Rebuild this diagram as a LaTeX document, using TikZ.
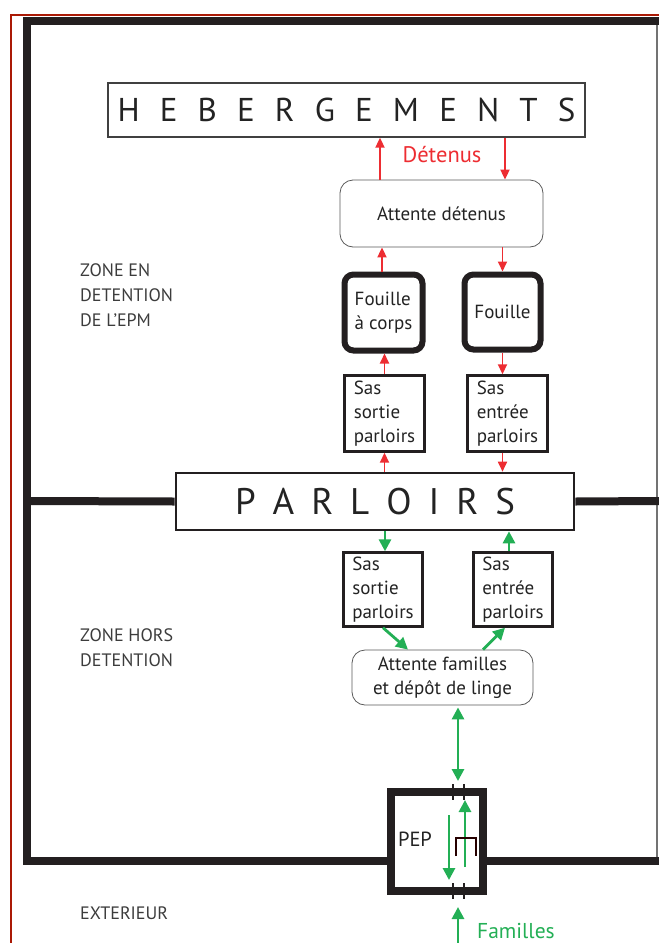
\documentclass[tikz,border=0pt]{standalone}
\usepackage{fontspec}
\setmainfont{PT Sans}
\usetikzlibrary{calc,arrows.meta}
\definecolor{framec}{RGB}{35,31,32}
\definecolor{redc}{RGB}{237,45,50}
\definecolor{greenc}{RGB}{35,175,85}
\definecolor{borderred}{RGB}{170,25,5}
\definecolor{txt}{RGB}{35,35,35}
\definecolor{lbl}{RGB}{60,60,60}
\begin{document}
\begin{tikzpicture}[x=1pt,y=-1pt,
  titlebox/.style={draw=black!75, line width=1.3pt, inner sep=0pt, text=txt,
    font=\fontsize{33}{33}\selectfont},
  softbox/.style={draw=black!65, line width=0.8pt, rounded corners=13pt, inner sep=0pt,
    align=center, text=txt, font=\fontsize{19}{24}\selectfont},
  fouillebox/.style={draw=framec, line width=6pt, rounded corners=9pt, inner sep=0pt,
    text=txt, font=\fontsize{19}{24}\selectfont},
  sasbox/.style={draw=framec, line width=2.4pt, inner sep=0pt, text=txt,
    font=\fontsize{19}{24}\selectfont},
  zonelabel/.style={anchor=north west, align=left, inner sep=0pt, text=lbl,
    font=\fontsize{18}{25}\selectfont},
  redarrow/.style={draw=redc, line width=1.8pt, -{Triangle[length=10pt,width=9pt]}},
  greenarrow/.style={draw=greenc, line width=2.8pt, -{Triangle[length=12pt,width=12pt]}},
  wall/.style={draw=framec, line width=8pt},
]
\useasboundingbox (0,0) rectangle (659,943);

% outer red border and thin right edge
\draw[borderred, line width=2pt] (11,943) -- (11,15) -- (659,15);
\draw[black!55, line width=1.5pt] (657,21) -- (657,861);

% boxes
\node[titlebox, minimum width=477pt, minimum height=54pt] (heb) at (346.5,110)
  {\makebox[458pt][s]{H E B E R G E M E N T S}};
\node[text=redc, font=\fontsize{22.5}{22}\selectfont, inner sep=0pt] (det) at (442,155) {Détenus};
\node[softbox, minimum width=203pt, minimum height=67pt] (att) at (441.5,213.5) {Attente détenus};
\node[fouillebox, minimum width=78pt, minimum height=76pt, align=left] (fc) at (383.5,312.5)
  {Fouille\\à corps};
\node[fouillebox, minimum width=76pt, minimum height=75pt] (fo) at (502.5,312) {Fouille};
\node[sasbox, minimum width=80pt, minimum height=76pt, align=left] (ss1) at (384.5,413.5)
  {Sas\\sortie\\parloirs};
\node[sasbox, minimum width=80pt, minimum height=76pt, align=left] (se1) at (507.5,413.5)
  {Sas\\entrée\\parloirs};
\node[titlebox, draw=framec, line width=2.6pt, minimum width=398pt, minimum height=57pt,
  font=\fontsize{37}{37}\selectfont] (parl) at (375,501.5)
  {\makebox[280pt][s]{P A R L O I R S}};
\node[sasbox, minimum width=79pt, minimum height=74pt, align=left] (ss2) at (383,589.5)
  {Sas\\sortie\\parloirs};
\node[sasbox, minimum width=79pt, minimum height=74pt, align=left] (se2) at (513,589.5)
  {Sas\\entrée\\parloirs};
\node[softbox, minimum width=181pt, minimum height=55pt] (af) at (442.5,677.5)
  {Attente familles\\et dépôt de linge};
\node[draw=framec, line width=8pt, minimum width=92pt, minimum height=99pt, inner sep=0pt] (pep) at (437,841.5) {};
\node[text=txt, font=\fontsize{20.5}{20}\selectfont, inner sep=0pt] (peplbl) at (415,839) {PEP};

% zone labels
\node[zonelabel] (z1) at (80,263) {ZONE EN\\DETENTION\\DE L'EPM};
\node[zonelabel] (z2) at (80,628) {ZONE HORS\\DETENTION};
\node[zonelabel] (z3) at (80,907) {EXTERIEUR};

% walls
\draw[wall, line join=miter] (659,21) -- (27,21) -- (27,861) -- (pep.west |- 0,861);
\draw[wall] (pep.east |- 0,861) -- (659,861);
\draw[wall] (27,501) -- (parl.west);
\draw[wall] (parl.east) -- (659,501);

% red arrows (detention)
\draw[redarrow] (att.north -| 380,0) -- (heb.south -| 380,0);
\draw[redarrow] (heb.south -| 505,0) -- (att.north -| 505,0);
\draw[redarrow] (fc.north -| 382,0) -- (att.south -| 382,0);
\draw[redarrow] (att.south -| fo.north) -- (fo.north);
\draw[redarrow] (ss1.north) -- (ss1.north |- fc.south);
\draw[redarrow] (fo.south) -- (fo.south |- se1.north);
\draw[redarrow] (ss1.south |- parl.north) -- (ss1.south);
\draw[redarrow] (se1.south -| fo.south) -- (fo.south |- parl.north);

% green arrows (families)
\draw[greenarrow] (parl.south -| 385,0) -- (ss2.north -| 385,0);
\draw[greenarrow] (se2.north -| 509,0) -- (parl.south -| 509,0);
\draw[greenarrow] (ss2.south) -- ($(af.north)+(-34.5,0)$);
\draw[greenarrow] ($(af.north)+(40.5,0)$) -- ($(se2.south)+(-8,0)$);
\coordinate (dtop) at ($(af.south)+(15.5,2)$);
\coordinate (dbot) at (458,781);
\draw[greenarrow, {Triangle[length=12pt,width=12pt]}-{Triangle[length=12pt,width=12pt]}] (dtop) -- (dbot);

% PEP interior
\draw[greenarrow] (449,815) -- (449,880);
\draw[greenarrow] (465,867) -- (465,800);
\draw[draw=black!85!red, line width=2pt] (456,856) -- (456,838) -- (476,838) -- (476,856);
% door ticks
\foreach \xx in {453,464} {
  \draw[framec, line width=1.5pt] (\xx,784) -- (\xx,800);
  \draw[framec, line width=1.5pt] (\xx,883) -- (\xx,899);
}
\coordinate (fbot) at (458,943);
\draw[greenarrow] (fbot) -- (458,907);
\node[text=greenc, font=\fontsize{21.5}{20}\selectfont, inner sep=0pt, anchor=west] (fam) at (477,931) {Familles};
\end{tikzpicture}
\end{document}
